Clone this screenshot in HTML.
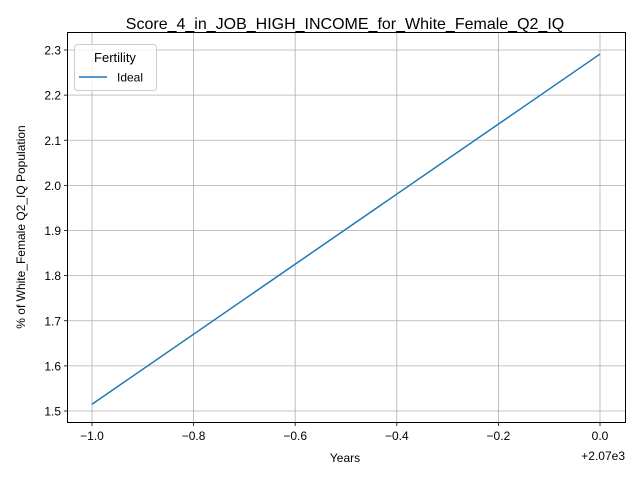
<!DOCTYPE html>
<html><head><meta charset="utf-8"><style>
body{margin:0;background:#fff;}
svg text{font-family:"Liberation Sans","DejaVu Sans",sans-serif;}
</style></head><body>
<svg id="chart" width="640" height="480" xmlns="http://www.w3.org/2000/svg">
<rect width="640" height="480" fill="#fff"/>
<text x="345" y="29" font-size="16" text-anchor="middle">Score_4_in_JOB_HIGH_INCOME_for_White_Female_Q2_IQ</text>
<g id="grid"></g>
<g id="ticks"></g>
<g id="series"></g>
<rect x="67.5" y="32.5" width="558" height="390" fill="none" stroke="#000" stroke-width="1"/>
<text x="345" y="462" font-size="12" text-anchor="middle">Years</text>
<text x="625" y="460" font-size="12" text-anchor="end">+2.07e3</text>
<text transform="translate(25,227) rotate(-90)" font-size="12" text-anchor="middle">% of White_Female Q2_IQ Population</text>
<g>
<rect x="74.5" y="44.5" width="82" height="46" rx="3" fill="#fff" fill-opacity="0.8" stroke="#ccc"/>
<text x="115" y="62" font-size="13" text-anchor="middle">Fertility</text>
<line x1="79" y1="77" x2="107" y2="77" stroke="#1f77b4" stroke-width="1.5"/>
<text x="117" y="81.5" font-size="12">Ideal</text>
</g>
</svg>
<script>
const xTicks=[-1.0,-0.8,-0.6,-0.4,-0.2,0.0];
const xTickLabels=["−1.0","−0.8","−0.6","−0.4","−0.2","0.0"];
const yTicks=[1.5,1.6,1.7,1.8,1.9,2.0,2.1,2.2,2.3];
const yTickLabels=["1.5","1.6","1.7","1.8","1.9","2.0","2.1","2.2","2.3"];
const years=[-1.0,0.0];
const ideal=[1.515,2.291];
const NS="http://www.w3.org/2000/svg";
const xs=v=>92+(v+1)*508;
const ys=v=>411-(v-1.5)*451.25;
function mk(t,a,p){const e=document.createElementNS(NS,t);for(const k in a)e.setAttribute(k,a[k]);document.getElementById(p).appendChild(e);return e;}
xTicks.forEach((v,i)=>{
const x=xs(v);
const g=mk('line',{x1:x,x2:x,y1:32.5,y2:422.5,stroke:'#b0b0b0','stroke-width':0.8},'grid');


const t=mk('line',{x1:x,x2:x,y1:422.5,y2:426,stroke:'#000','stroke-width':0.8},'ticks');


const l=mk('text',{x:x,y:440,'font-size':12,'text-anchor':'middle'},'ticks');l.textContent=xTickLabels[i];


});
yTicks.forEach((v,i)=>{
const y=ys(v);
const g=mk('line',{x1:67.5,x2:625.5,y1:y,y2:y,stroke:'#b0b0b0','stroke-width':0.8},'grid');


const t=mk('line',{x1:64,x2:67.5,y1:y,y2:y,stroke:'#000','stroke-width':0.8},'ticks');


const l=mk('text',{x:61,y:y+4.5,'font-size':12,'text-anchor':'end'},'ticks');l.textContent=yTickLabels[i];


});
const pts=years.map((y,i)=>xs(y)+','+ys(ideal[i])).join(' ');
const pl=mk('polyline',{points:pts,fill:'none',stroke:'#1f77b4','stroke-width':1.5},'series');


</script>
</body></html>
